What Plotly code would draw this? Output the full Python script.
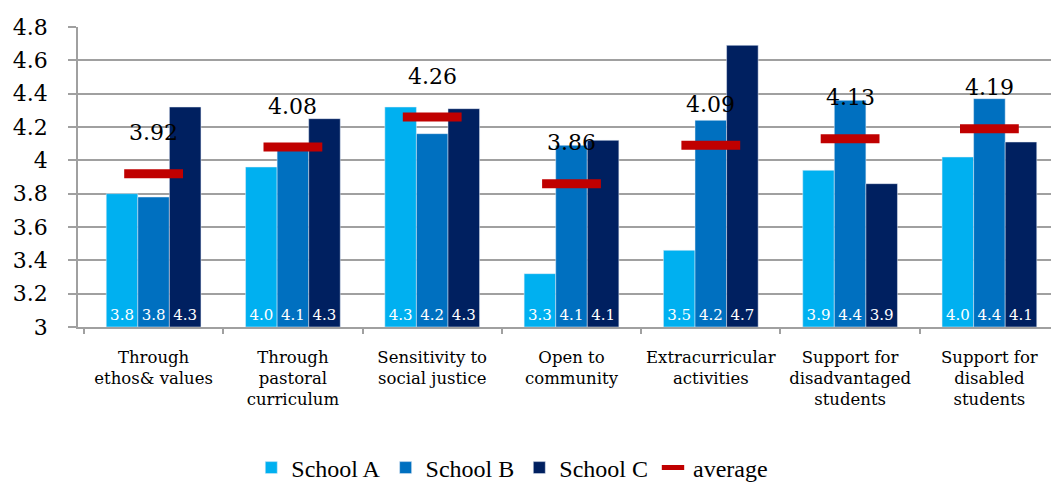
import plotly.graph_objects as go

categories = [
    "Through<br>ethos& values",
    "Through<br>pastoral<br>curriculum",
    "Sensitivity to<br>social justice",
    "Open to<br>community",
    "Extracurricular<br>activities",
    "Support for<br>disadvantaged<br>students",
    "Support for<br>disabled<br>students",
]
school_a = [3.80, 3.96, 4.32, 3.32, 3.46, 3.94, 4.02]
school_b = [3.78, 4.06, 4.16, 4.09, 4.24, 4.36, 4.37]
school_c = [4.32, 4.25, 4.31, 4.12, 4.69, 3.86, 4.11]
average = [3.92, 4.08, 4.26, 3.86, 4.09, 4.13, 4.19]
axis_min = 3.0

FONT = "DejaVu Serif"
fig = go.Figure()
for name, vals, col in [("School A", school_a, "#00B0F0"),
                        ("School B", school_b, "#0070C0"),
                        ("School C", school_c, "#002060")]:
    fig.add_trace(go.Bar(
        x=categories, y=[v - axis_min for v in vals], base=axis_min,
        customdata=vals, name=name, marker_color=col,
        texttemplate="%{customdata:.1f}", textposition="inside", insidetextanchor="start",
        textangle=0, textfont=dict(color="white", size=15, family=FONT),
        hovertemplate="%{customdata}<extra></extra>",
    ))

fig.add_trace(go.Scatter(
    x=categories, y=average, name="average", mode="markers",
    marker=dict(symbol="line-ew", size=42, line=dict(color="#C00000", width=9), color="#C00000"),
))

for c, v in zip(categories, average):
    fig.add_annotation(x=c, y=v, text=f"{v:.2f}", showarrow=False, yshift=41,
                       font=dict(size=22, color="black", family=FONT))

fig.update_layout(
    width=1059, height=484,
    margin=dict(l=70, r=2, t=19, b=161),
    paper_bgcolor="white", plot_bgcolor="white",
    barmode="group", bargap=0.32, bargroupgap=0,
    font=dict(family=FONT, color="black"),
    showlegend=True,
    legend=dict(orientation="h", x=0.44, xanchor="center", y=-0.47, yanchor="middle",
                font=dict(family="Liberation Serif", size=24, color="black"),
                itemwidth=30, tracegroupgap=0),
)
fig.update_yaxes(range=[3, 4.8], dtick=0.2, showgrid=True, gridcolor="#A0A0A0", gridwidth=1.5,
                 showline=True, linecolor="#A0A0A0", linewidth=1.5,
                 ticks="outside", ticklen=8, tickcolor="#A0A0A0", tickwidth=1.5,
                 tickfont=dict(size=22, family=FONT), ticklabelstandoff=16, zeroline=False)
fig.update_xaxes(showline=True, linecolor="#A0A0A0", linewidth=1.5,
                 ticks="outside", tickson="boundaries", ticklen=5, tickcolor="#A0A0A0", tickwidth=1.5,
                 tickangle=0, tickfont=dict(size=16.5, family=FONT), ticklabelstandoff=14)

fig.write_html("out.html")
